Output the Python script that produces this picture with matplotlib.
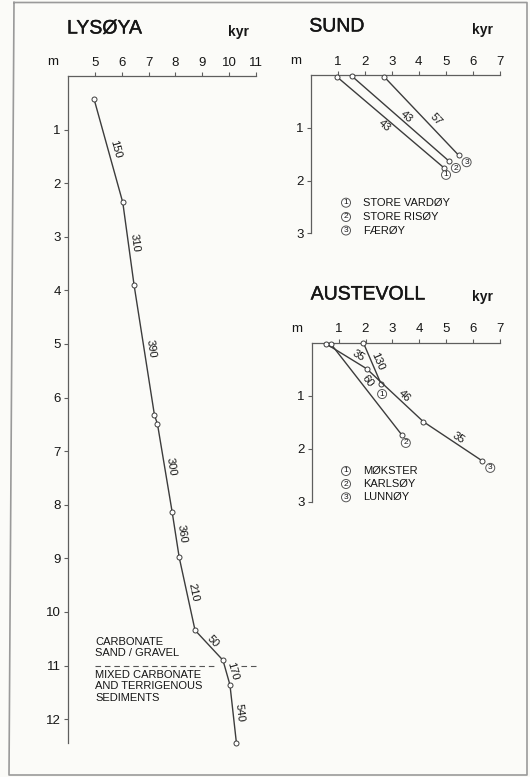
import numpy as np
import matplotlib
matplotlib.use("Agg")
import matplotlib.pyplot as plt
from matplotlib.lines import Line2D
import matplotlib.patheffects as pe

INK = "#161616"
LINE = "#3c3c3c"
AXC = "#5e5e5e"
BG = "#fbfbf8"

plt.rcParams.update({
    "font.family": ["Liberation Sans", "DejaVu Sans"],
    "font.size": 9,
    "text.color": INK,
    "xtick.color": AXC,
    "ytick.color": AXC,
    "xtick.labelcolor": INK,
    "ytick.labelcolor": INK,
})

# ── datos: edad (kyr) vs profundidad (m) ─────────────────────────────────────
LYS_AGE = [4.97, 6.04, 6.46, 7.22, 7.33, 7.88, 8.14, 8.73, 9.77, 10.03, 10.27]
LYS_DEPTH = [0.43, 2.36, 3.90, 6.33, 6.49, 8.14, 8.98, 10.34, 10.90, 11.36, 12.44]
LYS_RATE = ["150", "310", "390", "", "300", "360", "210", "50", "170", "540"]
LYS_XTICKS = [5, 6, 7, 8, 9, 10, 11]
LYS_YTICKS = list(range(1, 13))
BOUNDARY_DEPTH = 11.0

SUND_NAMES = ["STORE VARDØY", "STORE RISØY", "FÆRØY"]
SUND_AGE = [[0.96, 4.93], [1.52, 5.11], [2.71, 5.47]]
SUND_DEPTH = [[0.03, 1.76], [0.02, 1.63], [0.03, 1.52]]
SUND_RATE = [["43"], ["43"], ["57"]]

AUST_NAMES = ["MØKSTER", "KARLSØY", "LUNNØY"]
MOK_AGE = [1.92, 2.58]
MOK_DEPTH = [0.0, 0.78]
MOK_RATE = ["130"]
KAR_AGE = [0.71, 3.35]
KAR_DEPTH = [0.02, 1.74]
KAR_RATE = ["60"]
LUN_AGE = [0.53, 2.04, 4.15, 6.34]
LUN_DEPTH = [0.02, 0.49, 1.49, 2.23]
LUN_RATE = ["35", "46", "35"]

SMALL_XTICKS = [1, 2, 3, 4, 5, 6, 7]
SMALL_YTICKS = [1, 2, 3]

W, H = 530, 777
fig = plt.figure(figsize=(W / 100, H / 100), dpi=100, facecolor=BG)


def fx(px):
    return px / W


def fy(py):
    return 1 - py / H


def setup(ax, xlim, ymax, xticks, yticks):
    ax.set_xlim(*xlim)
    ax.set_ylim(ymax, 0)
    ax.patch.set_alpha(0)
    ax.xaxis.tick_top()
    for s in ("right", "bottom"):
        ax.spines[s].set_visible(False)
    for s in ("left", "top"):
        ax.spines[s].set_color(AXC)
        ax.spines[s].set_linewidth(0.9)
    ax.set_xticks(xticks)
    ax.set_yticks(yticks)
    ax.tick_params(length=3.2, width=0.8, pad=2, labelsize=9.5)
    ax.annotate("m", (0, 1), xycoords="axes fraction", xytext=(-15, 14),
                textcoords="offset pixels", ha="center", va="center", fontsize=9.5)


def rate_label(ax, xs, ys, i, txt, frac=0.5, side=1, dist=6):
    p0 = ax.transData.transform((xs[i], ys[i]))
    p1 = ax.transData.transform((xs[i + 1], ys[i + 1]))
    dx, dy = p1 - p0
    ang = np.degrees(np.arctan2(dy, dx))
    n = np.array([-dy, dx]) / np.hypot(dx, dy)
    xm = xs[i] + frac * (xs[i + 1] - xs[i])
    ym = ys[i] + frac * (ys[i + 1] - ys[i])
    ax.annotate(txt, (xm, ym), xytext=(side * dist * n[0], side * dist * n[1]),
                textcoords="offset pixels", rotation=ang, rotation_mode="anchor",
                ha="center", va="center", fontsize=8)


def circ_num(artist_text, *args, **kw):
    return artist_text(*args, fontsize=6, ha="center", va="center",
                       bbox=dict(boxstyle="circle,pad=0.12", fc="white",
                                 ec="#555555", lw=0.7), **kw)


def series(ax, xs, ys):
    ax.plot(xs, ys, color=LINE, lw=1.0, marker="o", ms=3.6, mfc="white",
            mec=LINE, mew=0.7, clip_on=False, zorder=3)


# ── LYSØYA ───────────────────────────────────────────────────────────────────
ax1 = fig.add_axes([fx(68), fy(743.3), fx(256 - 68), (743.3 - 76) / H])
setup(ax1, (4, 11), 12.45, LYS_XTICKS, LYS_YTICKS)
series(ax1, LYS_AGE, LYS_DEPTH)
lys_opts = [(0.5, 1, 7), (0.5, 1, 6.5), (0.5, 1, 7), None, (0.5, 1, 6.5),
            (0.5, 1, 6.5), (0.5, 1, 6.5), (0.5, 1, 6), (0.5, 1, 6.5), (0.5, 1, 6.5)]
for i, (txt, o) in enumerate(zip(LYS_RATE, lys_opts)):
    if txt:
        rate_label(ax1, LYS_AGE, LYS_DEPTH, i, txt, *o)
ax1.plot([5.02, 9.45], [BOUNDARY_DEPTH] * 2, color="#555555", lw=0.8,
         ls=(0, (5, 3.5)), clip_on=False)
ax1.plot([10.45, 11.1], [BOUNDARY_DEPTH] * 2, color="#555555", lw=0.8,
         ls=(0, (5, 3.5)), clip_on=False)
ax1.text(5.02, 10.67, "CARBONATE\nSAND / GRAVEL", fontsize=8, va="center",
         ha="left", linespacing=1.15)
ax1.text(5.02, 11.39, "MIXED CARBONATE\nAND TERRIGENOUS\nSEDIMENTS", fontsize=8,
         va="center", ha="left", linespacing=1.15)

# ── SUND ─────────────────────────────────────────────────────────────────────
ax2 = fig.add_axes([fx(310.7), fy(233.3), fx(500 - 310.7), (233.3 - 75) / H])
setup(ax2, (0, 7), 3, SMALL_XTICKS, SMALL_YTICKS)
sund_opts = [(0.48, -1, 6.5), (0.53, 1, 5.5), (0.62, 1, 8)]
sund_end = [(2, 7), (7, 7), (8, 7)]
for k in range(3):
    series(ax2, SUND_AGE[k], SUND_DEPTH[k])
    rate_label(ax2, SUND_AGE[k], SUND_DEPTH[k], 0, SUND_RATE[k][0], *sund_opts[k])
    circ_num(ax2.annotate, str(k + 1), (SUND_AGE[k][-1], SUND_DEPTH[k][-1]),
             xytext=(sund_end[k][0], -sund_end[k][1]), textcoords="offset pixels")

# ── AUSTEVOLL ────────────────────────────────────────────────────────────────
ax3 = fig.add_axes([fx(311.7), fy(501.7), fx(500 - 311.7), (501.7 - 342.7) / H])
setup(ax3, (0, 7), 3, SMALL_XTICKS, SMALL_YTICKS)
aust = [(MOK_AGE, MOK_DEPTH, MOK_RATE, [(0.5, 1, 6)], (1, 10)),
        (KAR_AGE, KAR_DEPTH, KAR_RATE, [(0.45, 1, 6)], (4, 8)),
        (LUN_AGE, LUN_DEPTH, LUN_RATE, [(0.71, 1, 7), (0.6, 1, 6), (0.54, 1, 6.5)], (8, 7))]
for k, (xs, ys, rates, opts, off) in enumerate(aust):
    series(ax3, xs, ys)
    for i, (txt, o) in enumerate(zip(rates, opts)):
        rate_label(ax3, xs, ys, i, txt, *o)
    circ_num(ax3.annotate, str(k + 1), (xs[-1], ys[-1]),
             xytext=(off[0], -off[1]), textcoords="offset pixels")

# ── títulos y leyendas ───────────────────────────────────────────────────────
heavy = [pe.withStroke(linewidth=0.3, foreground=INK)]
for txt, x, y in [("LYSØYA", 67, 29), ("SUND", 309.3, 27), ("AUSTEVOLL", 310.7, 295)]:
    fig.text(fx(x), fy(y), txt, fontsize=14, va="center", ha="left", path_effects=heavy)
for x, y in [(227.7, 31.7), (471.7, 30), (471.7, 297.3)]:
    fig.text(fx(x), fy(y), "kyr", fontsize=10, fontweight="bold", va="center", ha="left")

for names, ys in [(SUND_NAMES, [202.7, 217, 230.5]), (AUST_NAMES, [471, 484, 497.3])]:
    for k, (name, y) in enumerate(zip(names, ys)):
        circ_num(fig.text, fx(346), fy(y), str(k + 1))
        fig.text(fx(363), fy(y), name, fontsize=8, va="center", ha="left")

# marco de la lámina
fig.add_artist(Line2D([fx(14), fx(527), fx(527), fx(9), fx(14)],
                      [fy(2.5), fy(2.5), fy(775), fy(775), fy(2.5)],
                      color="#9a9a9a", lw=1.2))

fig.savefig("out.png", dpi=100, facecolor=BG)
